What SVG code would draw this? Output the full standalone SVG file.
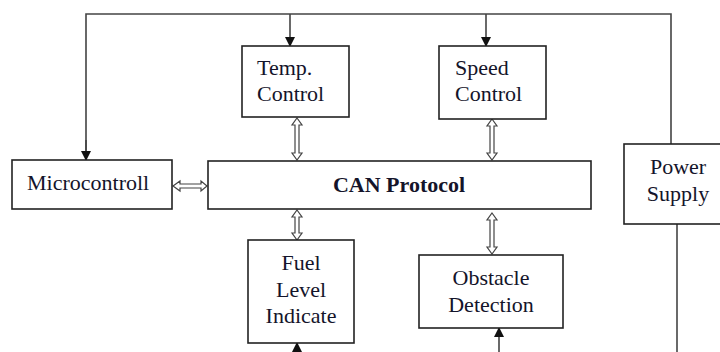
<svg xmlns="http://www.w3.org/2000/svg" width="720" height="352" viewBox="0 0 720 352">
<defs>
<marker id="ah" markerWidth="10" markerHeight="10" refX="9" refY="5" orient="auto" markerUnits="userSpaceOnUse">
<path d="M0,0 L10,5 L0,10 Z" fill="#111"/>
</marker>
</defs>
<style>
.box{fill:#fff;stroke:#222;stroke-width:1.6}
.t{font-family:"Liberation Serif",serif;font-size:22px;fill:#14142a}
.c{text-anchor:middle}
.b{font-weight:bold}
.ln{fill:none;stroke:#444;stroke-width:1.6}
.dbl{fill:#fff;stroke:#444;stroke-width:1.2}
</style>
<rect width="720" height="352" fill="#fff"/>
<g id="connectors">
<polyline class="ln" points="86,151 86,14 671,14 671,144"/>
<line class="ln" x1="86" y1="140" x2="86" y2="160" marker-end="url(#ah)"/>
<line class="ln" x1="290" y1="14" x2="290" y2="46" marker-end="url(#ah)"/>
<line class="ln" x1="486" y1="14" x2="486" y2="46" marker-end="url(#ah)"/>
<line class="ln" x1="677" y1="224" x2="677" y2="352"/>
<line class="ln" x1="297" y1="352" x2="297" y2="343" marker-end="url(#ah)"/>
<line class="ln" x1="499" y1="352" x2="499" y2="328" marker-end="url(#ah)"/>
<polygon class="dbl" points="173,186 180,181 180,184 201,184 201,181 207,186 201,191 201,188 180,188 180,191"/>
<polygon class="dbl" points="297,118 302,125 299,125 299,153 302,153 297,160 292,153 295,153 295,125 292,125"/>
<polygon class="dbl" points="492,119 497,126 494,126 494,153 497,153 492,160 487,153 490,153 490,126 487,126"/>
<polygon class="dbl" points="297,210 302,217 299,217 299,233 302,233 297,240 292,233 295,233 295,217 292,217"/>
<polygon class="dbl" points="492,213 497,220 494,220 494,247 497,247 492,254 487,247 490,247 490,220 487,220"/>
</g>
<g id="temp">
<rect class="box" x="242" y="46" width="107" height="71"/>
<text class="t" x="257" y="75">Temp.</text>
<text class="t" x="257" y="101">Control</text>
</g>
<g id="speed">
<rect class="box" x="439" y="46" width="107" height="73"/>
<text class="t" x="455" y="75">Speed</text>
<text class="t" x="455" y="101">Control</text>
</g>
<g id="micro">
<rect class="box" x="12" y="160" width="160" height="49"/>
<text class="t" x="27" y="190">Microcontroll</text>
</g>
<g id="can">
<rect class="box" x="208" y="161" width="383" height="48"/>
<text class="t c b" x="399" y="192">CAN Protocol</text>
</g>
<g id="power">
<rect class="box" x="624" y="144" width="100" height="80"/>
<text class="t c" x="678" y="174">Power</text>
<text class="t c" x="678" y="201">Supply</text>
</g>
<g id="fuel">
<rect class="box" x="248" y="240" width="106" height="103"/>
<text class="t c" x="301" y="270">Fuel</text>
<text class="t c" x="301" y="297">Level</text>
<text class="t c" x="301" y="323">Indicate</text>
</g>
<g id="obstacle">
<rect class="box" x="419" y="255" width="144" height="73"/>
<text class="t c" x="491" y="285">Obstacle</text>
<text class="t c" x="491" y="312">Detection</text>
</g>
</svg>
